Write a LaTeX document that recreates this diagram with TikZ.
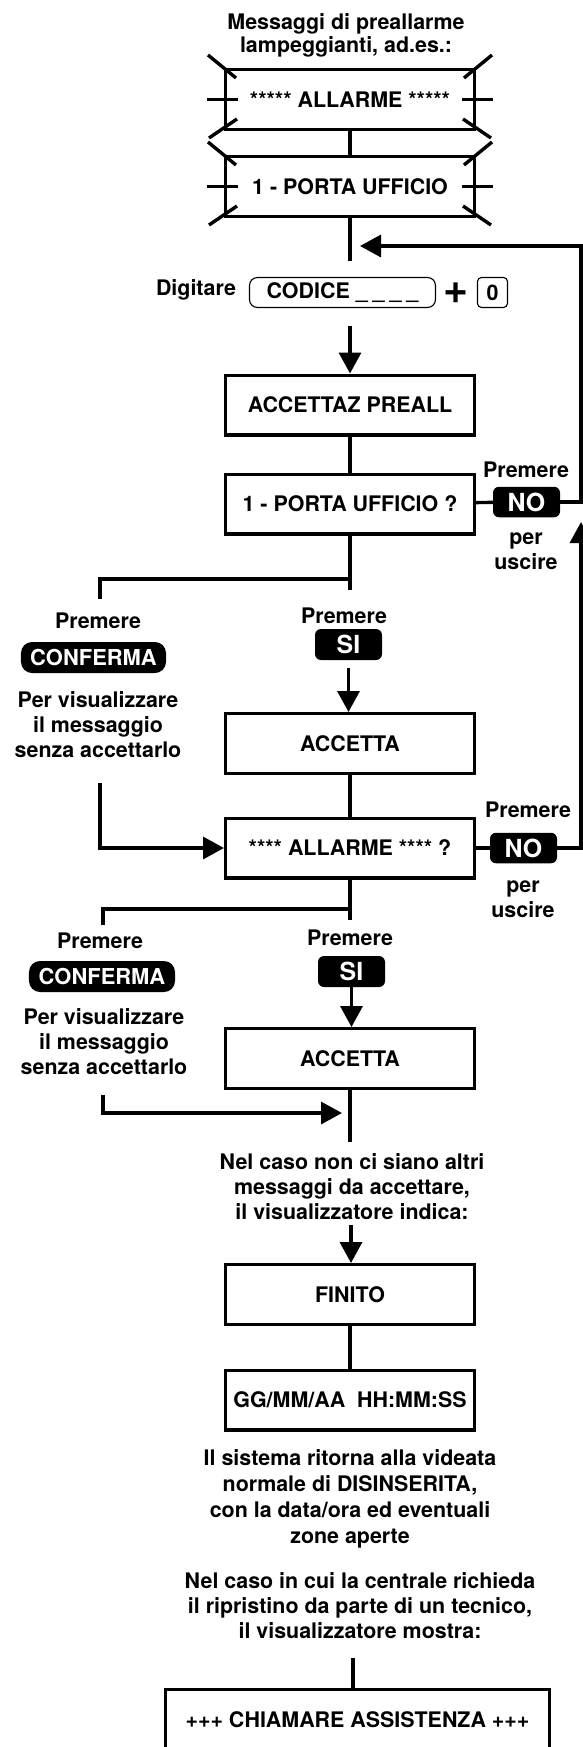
\documentclass[tikz,border=0pt]{standalone}
\usepackage{fontspec}
\setmainfont{TeX Gyre Heros}
\usetikzlibrary{arrows.meta}
\usetikzlibrary{calc}

\tikzset{
	box/.style={draw, inner sep=0pt, minimum width=248.6bp, minimum height=59.6bp},
	txt/.style={inner sep=0pt, align=center},
	thinbox/.style={draw, line width=1.1bp, inner sep=0pt, minimum height=30bp},
	key/.style={fill=black, text=white, rounded corners=6bp, inner sep=0pt, outer sep=0pt,
		minimum width=67bp, minimum height=30.5bp, font=\bfseries\fontsize{25}{25}\selectfont},
	confkey/.style={key, rounded corners=11bp, minimum width=145bp, minimum height=31bp,
		font=\bfseries\fontsize{22}{22}\selectfont},
	arr/.style={-{Triangle[length=21bp,width=22bp]}}
}

\begin{document}
\begin{tikzpicture}[x=1bp, y=-1bp, line width=3.4bp,
	font=\bfseries\fontsize{21.5}{25.5}\selectfont]
		\useasboundingbox (0,0) rectangle (583,1747);
		
		\node[txt, anchor=north, font=\bfseries\fontsize{21.5}{23}\selectfont] (msgtxt) at (346,11.5)
			{Messaggi di preallarme\\lampeggianti, ad.es.:};
		\node[box] (msg1) at (350,99.5) {***** ALLARME *****};
		\node[box] (msg2) at (350,186.5) {1 - PORTA UFFICIO};
		
		% segni lampeggianti
		\foreach \b in {msg1,msg2}{
			\draw (\b.north west) +(-16,-13) -- +(12,10);
			\draw (\b.north east) +(16,-13) -- +(-12,10);
			\draw (\b.south west) +(-15,7) -- +(13,-12);
			\draw (\b.south east) +(15,7) -- +(-13,-12);
			\draw (\b.west) +(-17,0) -- +(14,0);
			\draw (\b.east) +(17,0) -- +(-14,0);
		}
		
		\node[txt, anchor=base] (digit) at (196,295) {Digitare};
		\node[thinbox, rounded corners=8bp, minimum width=186bp] (codice) at (342.5,292.5)
			{CODICE\ \_\hspace{5bp}\_\hspace{5bp}\_\hspace{5bp}\_};
		\node[txt, font=\bfseries\fontsize{43}{43}\selectfont] (plus) at (456,293) {+};
		\node[thinbox, rounded corners=4bp, minimum width=30bp] (zero) at (492.5,292.5) {0};
		
		\node[box] (accpre) at (350,405) {ACCETTAZ PREALL};
		\node[box] (porta) at (350,504) {1 - PORTA UFFICIO ?};
		
		\node[txt, anchor=base] (pno1) at (526,477) {Premere};
		\node[key] (no1) at (526.5,502) {NO};
		\node[txt, anchor=north] (per1) at (526,530.8) {per\\uscire};
		
		\node[txt, anchor=base] (pconf1) at (98,628) {Premere};
		\node[confkey] (conf1) at (93.5,657.5) {CONFERMA};
		\node[txt, anchor=north] (vis1) at (98,689.5)
			{Per visualizzare\\il messaggio\\senza accettarlo};
		
		\node[txt, anchor=base] (psi1) at (344,623) {Premere};
		\node[key, minimum height=31bp] (si1) at (348.5,644.5) {SI};
		
		\node[box] (acc1) at (350,743.5) {ACCETTA};
		\node[box] (allq) at (350,848) {**** ALLARME **** ?};
		
		\node[txt, anchor=base] (pno2) at (528,817) {Premere};
		\node[key] (no2) at (523.5,848) {NO};
		\node[txt, anchor=north] (per2) at (523,878.8) {per\\uscire};
		
		\node[txt, anchor=base] (pconf2) at (100,948) {Premere};
		\node[confkey, minimum width=146bp] (conf2) at (102,976.5) {CONFERMA};
		\node[txt, anchor=north] (vis2) at (104,1006.5)
			{Per visualizzare\\il messaggio\\senza accettarlo};
		
		\node[txt, anchor=base] (psi2) at (350,945) {Premere};
		\node[key, minimum height=31bp] (si2) at (351.5,971.5) {SI};
		
		\node[box] (acc2) at (350,1058.5) {ACCETTA};
		
		\node[txt, anchor=north] (nelcaso) at (352,1151.5)
			{Nel caso non ci siano altri\\messaggi da accettare,\\il visualizzatore indica:};
		
		\node[box] (finito) at (350,1294.5) {FINITO};
		\node[box] (ggmm) at (350,1400) {GG/MM/AA\ \ HH:MM:SS};
		
		\node[txt, anchor=north, font=\bfseries\fontsize{21.5}{26.3}\selectfont] (sistema) at (350,1447.5)
			{Il sistema ritorna alla videata\\normale di DISINSERITA,\\con la data/ora ed eventuali\\zone aperte};
		\node[txt, anchor=north] (tecnico) at (360,1570.5)
			{Nel caso in cui la centrale richieda\\il ripristino da parte di un tecnico,\\il visualizzatore mostra:};
		
		\node[box, minimum width=384bp, minimum height=61bp] (assist) at (357.5,1720)
			{+++ CHIAMARE ASSISTENZA +++};
		
		\coordinate (s0) at (350,261);
		\coordinate (ret) at (360,246);
		\coordinate (rtop) at (581,246);
		\coordinate (rjoin) at (581,522);
		\coordinate (a0) at (350,326);
		\coordinate (j1) at (350,579);
		\coordinate (s1) at (350,590);
		\coordinate (l1) at (100,599);
		\coordinate (l1b) at (100,783);
		\coordinate (j2) at (350,909);
		\coordinate (s2) at (350,920);
		\coordinate (l2) at (103,925);
		\coordinate (l2b) at (103,1095);
		\coordinate (t2) at (342,1113);
		\coordinate (s3) at (350,1142);
		\coordinate (a3) at (351,1225);
		\coordinate (s4) at (353,1658);
		
		\draw (msg1) -- (msg2);
		\draw (msg2) -- (s0);
		\draw[arr] (a0) -- (accpre);
		\draw (accpre) -- (porta);
		
		\draw (porta) -- (no1);
		\draw[arr] (no1) -| (rtop) -- (ret);
		\draw (allq) -- (no2);
		\draw[arr] (no2) -| (rjoin);
		
		\draw (porta) -- (s1);
		\draw (j1) -| (l1);
		\draw[arr, shorten <=8bp] (si1.south) -- (si1.south |- acc1.north);
		\draw (acc1) -- (allq);
		\draw[arr] (l1b) |- (allq);
		
		\draw (allq) -- (s2);
		\draw (j2) -| (l2);
		\draw[arr] (si2.south) -- (si2.south |- acc2.north);
		\draw (acc2) -- (s3);
		\draw[arr] (l2b) |- (t2);
		
		\draw[arr] (a3) -- (a3 |- finito.north);
		\draw (finito) -- (ggmm);
		\draw (s4) -- (s4 |- assist.north);
		
		\end{tikzpicture}
\end{document}
